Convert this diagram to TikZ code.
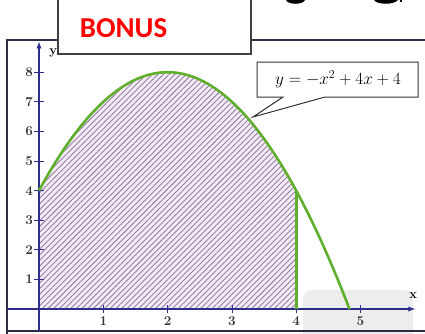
\documentclass[tikz,border=0pt]{standalone}
\usepackage{fontspec}
\newfontfamily\bonusfont{Carlito}
\usetikzlibrary{patterns.meta}
\definecolor{axisblue}{RGB}{45,45,140}
\definecolor{framecol}{RGB}{45,45,70}
\definecolor{curvegreen}{RGB}{95,175,45}
\definecolor{hatchcol}{RGB}{150,125,165}
\definecolor{hatchbg}{RGB}{243,236,247}
\definecolor{wmgray}{RGB}{237,237,237}
\tikzset{
  axisline/.style={axisblue, line width=1.3bp},
  ticklbl/.style={font=\bfseries\fontsize{13.5}{14}\selectfont, text=black!80, inner sep=0pt},
  curveline/.style={curvegreen, line width=2.6bp},
}
\begin{document}
\begin{tikzpicture}[x=1bp,y=-1bp]
\useasboundingbox (0,0) rectangle (425,334);
% watermark
\fill[wmgray, rounded corners=8bp] (303,290) rectangle (413,345);
% frame
\draw[framecol, line width=1.8bp] (7,334) -- (7,40) -- (426,40);
\draw[framecol, line width=1.8bp] (7,331) -- (426,331);
% math scope
\begin{scope}[xshift=39bp, yshift=-309bp, x=64.3bp, y=29.6bp]
  \fill[hatchbg] (0,0) -- plot[domain=0:4, samples=60] (\x,{-\x*\x+4*\x+4}) -- (4,0) -- cycle;
  \fill[pattern={Lines[angle=45, distance=4bp, line width=0.9bp]}, pattern color=hatchcol]
    (0,0) -- plot[domain=0:4, samples=60] (\x,{-\x*\x+4*\x+4}) -- (4,0) -- cycle;
  % axes
  \draw[axisline, -latex] (-0.5,0) -- (5.85,0);
  \draw[axisline, -latex] (0,-0.75) -- (0,9.03);
  % ticks
  \foreach \i in {1,...,8} {
    \draw[axisblue, line width=0.8bp] (-0.08,\i) -- (0.08,\i);
    \node[ticklbl, anchor=east] (yl\i) at (-0.09,\i) {\i};
  }
  \foreach \i in {1,...,5} {
    \draw[axisblue, line width=0.8bp] (\i,-0.15) -- (\i,0.15);
    \node[ticklbl] (xl\i) at (\i,-0.42) {\i};
  }
  \node[font=\bfseries\fontsize{13}{14}\selectfont, inner sep=0pt] (xlab) at (5.82,0.45) {x};
  \node[font=\bfseries\fontsize{13}{14}\selectfont, inner sep=0pt] (ylab) at (0.22,8.65) {y};
  % curve
  \draw[curveline] plot[domain=0:4.83, samples=80] (\x,{-\x*\x+4*\x+4});
  \draw[curveline] (4,0) -- (4,4);
\end{scope}
% callout
\draw[black!80, line width=1bp, fill=white] (257,62) -- (418,62) -- (418,97) -- (325,97) -- (253,117) -- (283,97) -- (257,97) -- cycle;
\node[font=\fontsize{17.5}{19}\selectfont, inner sep=0pt] (lbl) at (338,79) {$y=-x^2+4x+4$};
% BONUS box
\draw[black!75, line width=1.5bp, fill=white] (58,-3) rectangle (251,54);
\node[font=\bonusfont\bfseries\fontsize{29}{30}\selectfont, text=red, inner sep=0pt] (bonus) at (123.5,28) {BONUS};
% cropped text fragments at top
\fill[black] (286,0) .. controls (288,5) and (303,5) .. (305,0) -- cycle;
\fill[black] (374,0) .. controls (377,5) and (394,5) .. (398,0) -- cycle;
\fill[black] (400,0) rectangle (402,2);
\end{tikzpicture}
\end{document}
